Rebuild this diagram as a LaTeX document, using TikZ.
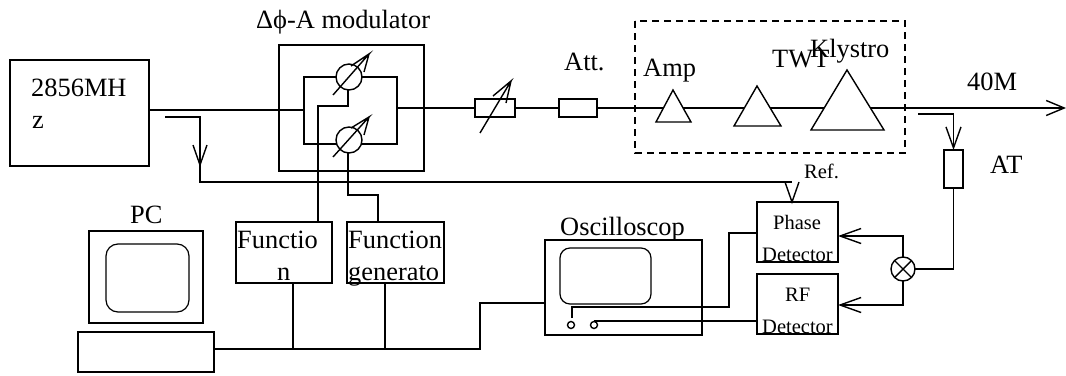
\documentclass[tikz,border=0pt]{standalone}
\usepackage{fontspec}
\setmainfont{Liberation Serif}
\usetikzlibrary{arrows.meta}
\tikzset{
  x=1pt,y=-1pt,
  wire/.style={line width=1.4pt},
  boxn/.style={draw,line width=1.4pt,inner sep=0pt,outer sep=0pt,anchor=north west},
  lab/.style={inner sep=0pt,anchor=base west,font=\fontsize{26.4}{26.4}\selectfont},
  labs/.style={inner sep=0pt,anchor=base west,font=\fontsize{20.5}{20.5}\selectfont},
  vee/.style={-{Straight Barb[length=21pt,width=15pt,line width=1.4pt]}},
  veeside/.style={-{Straight Barb[length=21pt,width=15pt,line width=1.4pt]}},
  veeout/.style={-{Straight Barb[length=18pt,width=15pt,line width=1.4pt]}},
  trin/.style={draw,fill=white,line width=1.4pt,line join=miter},
  knob/.style={draw,fill=white,circle,inner sep=0pt,outer sep=0pt,line width=1.4pt,minimum size=26pt},
  pinn/.style={draw,fill=white,circle,inner sep=0pt,outer sep=0pt,line width=1.4pt,minimum size=7pt},
  mixn/.style={draw,fill=white,circle,inner sep=0pt,outer sep=0pt,line width=1.4pt,minimum size=24pt},
  scr/.style={draw,rounded corners=10pt,line width=1.2pt},
}
\begin{document}
\begin{tikzpicture}
\useasboundingbox (0,0) rectangle (1066,375);
% boxes
\node[boxn,minimum width=139pt,minimum height=106pt] (src) at (10,60) {};
\node[boxn,minimum width=145pt,minimum height=126pt] (mod) at (279,45) {};
\node[boxn,minimum width=40pt,minimum height=18pt] (var) at (475,99) {};
\node[boxn,minimum width=38pt,minimum height=18pt] (att) at (559,99) {};
\node[boxn,minimum width=19pt,minimum height=38pt] (at) at (944,150) {};
\node[boxn,minimum width=81pt,minimum height=60pt] (phase) at (757,202) {};
\node[boxn,minimum width=81pt,minimum height=60pt] (rf) at (757,274) {};
\node[boxn,minimum width=157pt,minimum height=95pt] (osc) at (545,240) {};
\node[boxn,minimum width=96pt,minimum height=61pt] (fa) at (236,222) {};
\node[boxn,minimum width=97pt,minimum height=61pt] (fb) at (347,222) {};
\node[boxn,minimum width=114pt,minimum height=92pt] (mon) at (89,231) {};
\node[boxn,minimum width=136pt,minimum height=40pt] (kbd) at (78,332) {};
% modulator inner loop
\coordinate (mi) at (304,110);
\coordinate (mo) at (397,108);
\coordinate (topmid) at (349,77);
\coordinate (botmid) at (349,144);
\draw[wire] (src.east |- mi) -- (mi);
\draw[wire] (mi) |- (topmid) -| (mo);
\draw[wire] (mi) |- (botmid) -| (mo);
\node[knob] (ka) at (349,77) {};
\node[knob] (kb) at (349,140) {};
% phase shifter arrows
\coordinate (kaa) at (333,95);
\coordinate (kab) at (369,54);
\coordinate (kba) at (333,157);
\coordinate (kbb) at (369,117);
\draw[wire] (kaa) -- (kab) -- (351,66) (kab) -- (364,72);
\draw[wire] (kba) -- (kbb) -- (351,128) (kbb) -- (364,135);
% function generator wires
\draw[wire] (fa.north -| 318,0) -- (318,106) -- (348,106) -- (ka.south -| 348,0);
\draw[wire] (kb.south -| 348,0) -- (348,195) -- (378,195) -- (fb.north -| 378,0);
% main line
\draw[wire] (mo) -- (var.west);
\draw[wire] (var.east) -- (att.west);
\coordinate (outp) at (1066,108);
\draw[wire,veeout] (att.east) -- (outp);
% attenuator arrow
\coordinate (va) at (480,133);
\coordinate (vb) at (511,81);
\draw[wire] (va) -- (vb) -- (493,96) (vb) -- (506,103);
% amplifiers
\draw[trin] (656,122) -- (673,90) -- (691,122) -- cycle;
\draw[trin] (734,126) -- (757,86) -- (781,126) -- cycle;
\draw[trin] (811,130) -- (847,70) -- (884,130) -- cycle;
\draw[line width=1.4pt,dash pattern=on 7pt off 5pt] (635,21) rectangle (905,153);
% couplers
\coordinate (cpa) at (918,114);
\draw[wire,vee] (cpa) -| (at.north);
\coordinate (cpb) at (165,117);
\coordinate (cpc) at (200,182);
\coordinate (reftip) at (792,202);
\draw[wire] (cpb) -| (cpc) -- (phase.north |- cpc -| reftip);
\draw[wire,line join=miter] (785,182) -- (reftip) -- (799,182);
\draw[wire,line join=miter] (193,145) -- (200,165) -- (207,145);
% mixer
\node[mixn] (mix) at (903,269) {};
\draw[wire] (mix.45) -- (mix.225) (mix.135) -- (mix.315);
\draw[wire] (mix.east) -| (at.south);
\coordinate (mt) at (903,236);
\coordinate (mb) at (903,305);
\draw[wire,veeside] (mix.north) -- (mt) -- (phase.east |- mt);
\draw[wire,veeside] (mix.south) -- (mb) -- (rf.east |- mb);
% oscilloscope
\draw[scr] (560,248) rectangle (651,304);
\node[pinn] (pa) at (571,325) {};
\node[pinn] (pb) at (594,325) {};
\draw[wire] (572,318) -- (572,307) -- (729,307) -- (729,233) -- (phase.west |- 0,233);
\draw[wire] (594,321) -- (rf.west |- 0,321);
% PC
\draw[scr,rounded corners=12pt] (106,244) rectangle (189,312);
\draw[wire] (kbd.east |- 0,349) -- (480,349) -- (480,303) -- (osc.west |- 0,303);
\draw[wire] (fa.south -| 293,0) -- (293,349);
\draw[wire] (fb.south -| 385,0) -- (385,349);
% text
\node[lab] (t1) at (31,96) {2856MH};
\node[lab] (t2) at (32,128) {z};
\node[lab] (t3) at (256,28) {Δϕ-A modulator};
\node[lab] (t4) at (564,70) {Att.};
\node[lab] (t5) at (643,76) {Amp};
\node[lab] (t6) at (772,67) {TWT};
\node[lab] (t7) at (810,57) {Klystro};
\node[lab] (t8) at (967,90) {40M};
\node[lab] (t9) at (990,173) {AT};
\node[labs] (t10) at (804,178) {Ref.};
\node[labs] (t11) at (773,229) {Phase};
\node[labs] (t12) at (762,261) {Detector};
\node[labs] (t13) at (785,301) {RF};
\node[labs] (t14) at (762,333) {Detector};
\node[lab] (t15) at (560,235) {Oscilloscop};
\node[lab] (t16) at (130,223) {PC};
\node[lab] (t17) at (237,248) {Functio};
\node[lab] (t18) at (277,280) {n};
\node[lab] (t19) at (348,248) {Function};
\node[lab] (t20) at (348,280) {generato};
\end{tikzpicture}
\end{document}
